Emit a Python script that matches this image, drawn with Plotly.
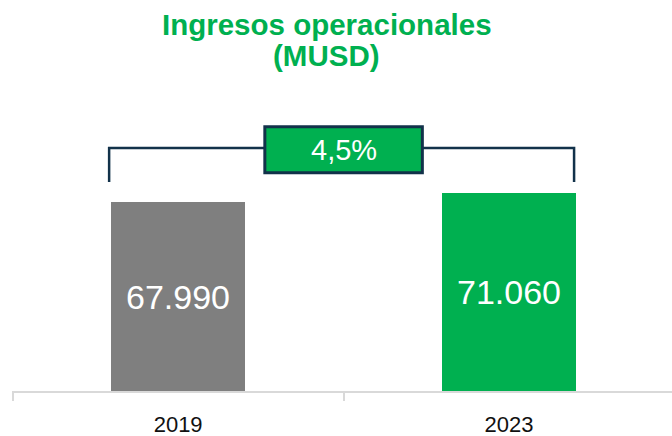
import plotly.graph_objects as go

# Operating revenue, thousands of USD
years = ["2019", "2023"]
revenue = [67990, 71060]
bar_colors = ["#7f7f7f", "#00b050"]

title_line1 = "Ingresos operacionales"
title_line2 = "(MUSD)"

growth = revenue[1] / revenue[0] - 1
growth_label = f"{growth * 100:.1f}%".replace(".", ",")

GREEN = "#00b050"
NAVY = "#12324a"
FONT = "Liberation Sans, Arial, sans-serif"

x_pos = list(range(len(years)))
bar_width = 0.405
half = bar_width / 2

fig = go.Figure(
    go.Bar(
        x=x_pos,
        y=revenue,
        width=bar_width,
        marker=dict(color=bar_colors, line=dict(width=0)),
        texttemplate="%{y:,.0f}",
        textposition="inside",
        insidetextanchor="middle",
        textangle=0,
        constraintext="none",
        textfont=dict(family=FONT, size=34, color="white"),
        hoverinfo="skip",
    )
)

# Bracket spanning both bars
y_top, y_bot = 0.835, 0.718
x_left, x_right = x_pos[0] - half - 0.006, x_pos[1] + half - 0.006
fig.add_shape(type="path",
              path=f"M {x_left} {y_bot} L {x_left} {y_top} L {x_right} {y_top} L {x_right} {y_bot}",
              xref="x", yref="paper", line=dict(color=NAVY, width=2.5))

# Growth box
x_mid = (x_pos[0] + x_pos[1]) / 2
box_half = 0.238
fig.add_shape(type="rect", xref="x", yref="paper",
              x0=x_mid - box_half, x1=x_mid + box_half, y0=0.750, y1=0.908,
              fillcolor=GREEN, line=dict(color=NAVY, width=3))
fig.add_annotation(x=x_mid, y=0.829, xref="x", yref="paper", text=growth_label,
                   showarrow=False, xanchor="center", yanchor="middle",
                   font=dict(family=FONT, size=29, color="white"))

# Title, two tightly spaced lines
for txt, yy in ((title_line1, 1.261), (title_line2, 1.1546)):
    fig.add_annotation(x=0.477, y=yy, xref="paper", yref="paper", text=f"<b>{txt}</b>",
                       showarrow=False, xanchor="center", yanchor="middle",
                       font=dict(family=FONT, size=29.5, color=GREEN))

fig.update_layout(
    width=672, height=436,
    margin=dict(l=12, r=0, t=100, b=45, autoexpand=False),
    paper_bgcolor="white", plot_bgcolor="white",
    separators=",.",
    showlegend=False,
    bargap=0,
    xaxis=dict(
        range=[-0.502, 1.4924],
        automargin=False,
        tickvals=x_pos, ticktext=years, ticks="",
        tickfont=dict(family=FONT, size=22, color="#111111"),
        ticklabelstandoff=13,
        showline=True, linecolor="#d9d9d9", linewidth=2,
        showgrid=False, zeroline=False,
        minor=dict(tickvals=[-0.5, 0.5, 1.5], ticks="outside", ticklen=8,
                   tickwidth=2, tickcolor="#d9d9d9", showgrid=False),
    ),
    yaxis=dict(range=[0, 104470], visible=False, showgrid=False, zeroline=False,
               automargin=False),
)

fig.write_html("out.html")
